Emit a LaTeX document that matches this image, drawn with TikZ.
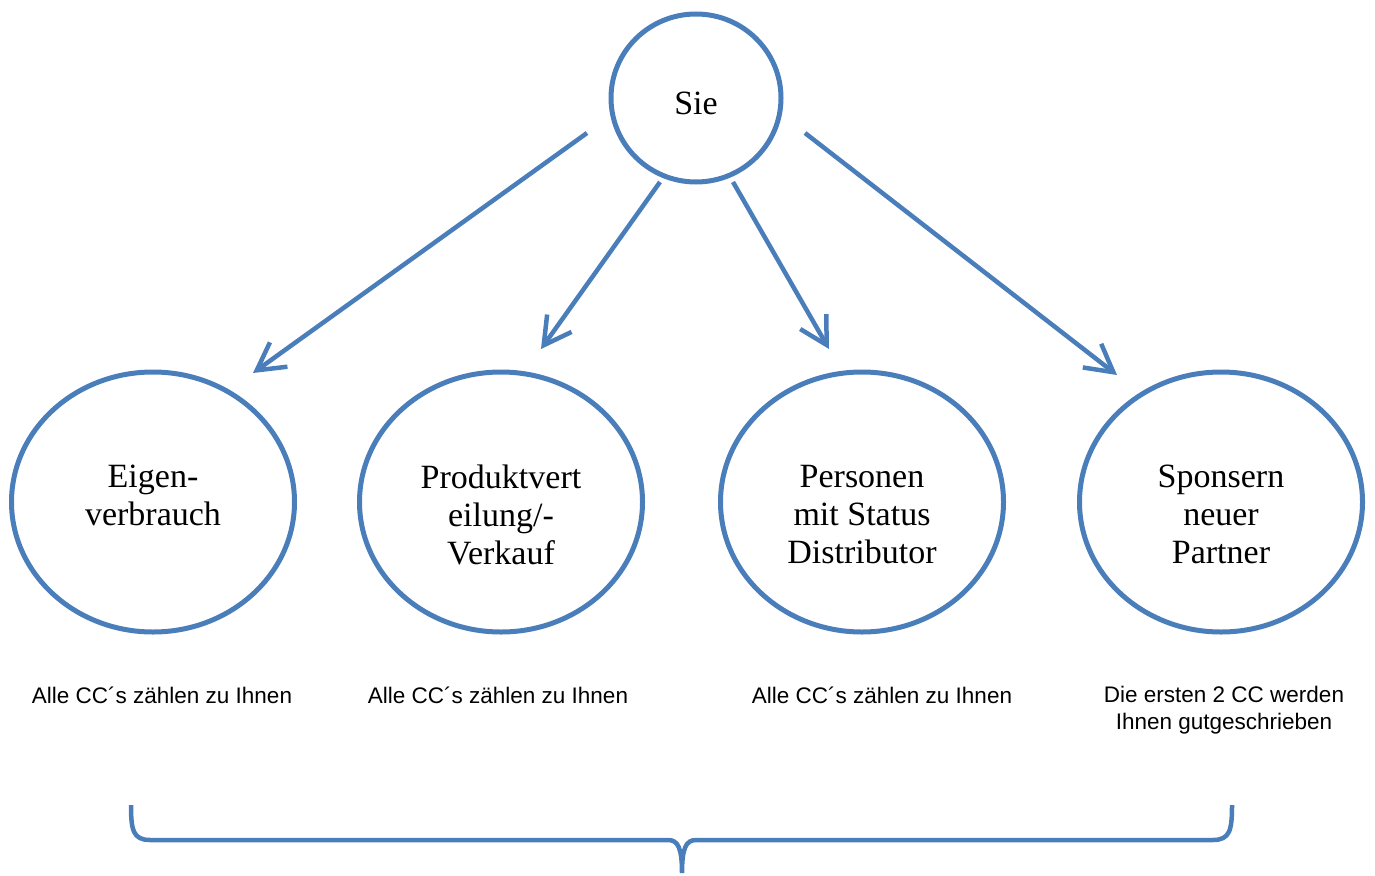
\documentclass[tikz,border=0pt]{standalone}
\usepackage{fontspec}
\setmainfont{Liberation Serif}
\newfontfamily\lsans{Liberation Sans}
\usetikzlibrary{arrows.meta,shapes.geometric}
\definecolor{ofblue}{HTML}{4A7EBB}
\begin{document}
\begin{tikzpicture}[x=1pt,y=-1pt,
  circ/.style={draw=ofblue,line width=5pt,ellipse,minimum width=283pt,minimum height=260pt,inner sep=0pt},
  bigtxt/.style={font=\fontsize{34}{38}\selectfont,align=center,inner sep=0pt,anchor=north},
  smalltxt/.style={font=\lsans\fontsize{22.5}{27}\selectfont,align=center,inner sep=0pt,anchor=north},
  conn/.style={draw=ofblue,line width=4.5pt,-{Straight Barb[length=27pt,width=30pt,line width=4.5pt]}},
  brace/.style={draw=ofblue,line width=4.5pt}]
\useasboundingbox (0,0) rectangle (1375,875);
% top circle
\node[circ,minimum width=170pt,minimum height=168pt] (sie) at (696,98) {};
\node[bigtxt] (sietxt) at (696,92) {Sie};
% lower ellipses
\node[circ] (e1) at (153,502) {};
\node[circ] (e2) at (501,502) {};
\node[circ] (e3) at (862,502) {};
\node[circ] (e4) at (1221,502) {};
\node[bigtxt] (t1) at (153,465) {Eigen-\\verbrauch};
\node[bigtxt] (t2) at (501,465) {Produktvert\\eilung/-\\Verkauf};
\node[bigtxt] (t3) at (862,465) {Personen\\mit Status\\Distributor};
\node[bigtxt] (t4) at (1221,465) {Sponsern\\neuer\\Partner};
% arrows
\coordinate (a1s) at (587,133); \coordinate (a1e) at (253,373);
\coordinate (a2s) at (660,182); \coordinate (a2e) at (541,349);
\coordinate (a3s) at (733,182); \coordinate (a3e) at (829,349);
\coordinate (a4s) at (805,133); \coordinate (a4e) at (1117,375);
\draw[conn] (a1s) -- (a1e);
\draw[conn] (a2s) -- (a2e);
\draw[conn] (a3s) -- (a3e);
\draw[conn] (a4s) -- (a4e);
% bottom captions
\node[smalltxt] (c1) at (162,687) {Alle CC´s zählen zu Ihnen};
\node[smalltxt] (c2) at (498,687) {Alle CC´s zählen zu Ihnen};
\node[smalltxt] (c3) at (882,687) {Alle CC´s zählen zu Ihnen};
\node[smalltxt] (c4) at (1224,686) {Die ersten 2 CC werden\\Ihnen gutgeschrieben};
% brace
\coordinate (bl) at (131,805);
\coordinate (br) at (1232,805);
\coordinate (bm) at (682,873);
\draw[brace] (bl) .. controls (131,830) and (133,840) .. (150,840) -- (668,840)
  .. controls (678,840) and (682,848) .. (bm)
  .. controls (682,848) and (686,840) .. (696,840) -- (1213,840)
  .. controls (1230,840) and (1232,830) .. (br);
\end{tikzpicture}
\end{document}
